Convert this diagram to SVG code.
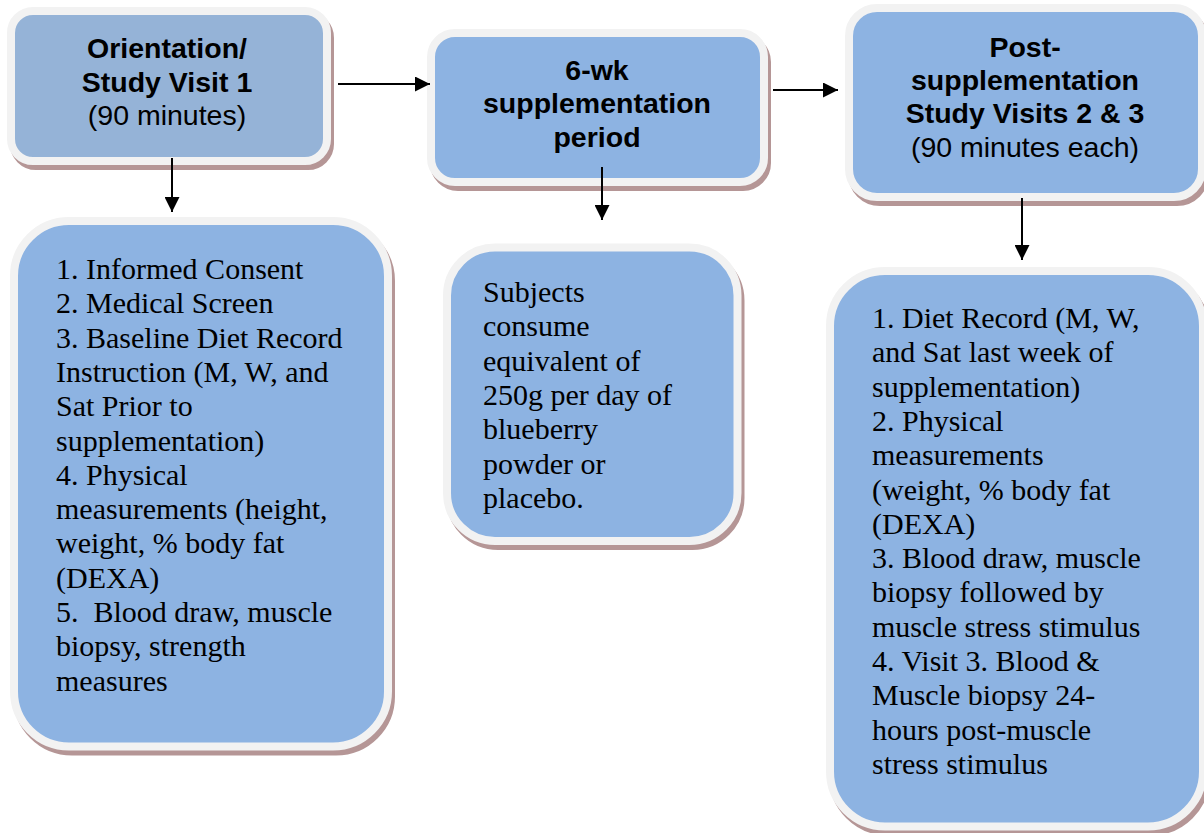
<svg xmlns="http://www.w3.org/2000/svg" width="1204" height="833" viewBox="0 0 1204 833">
<style>
.sh{fill:#b59696;stroke:#b59696;stroke-width:8}
.bx{fill:#8db3e2;stroke:#f2f2f2;stroke-width:8}
.bx1{fill:#95b3d7;stroke:#f2f2f2;stroke-width:8}
.hd{font-family:"Liberation Sans",Arial,sans-serif;font-size:28.5px;text-anchor:middle;fill:#000}
.b{font-weight:bold}
.bd{font-family:"Liberation Serif","Times New Roman",serif;font-size:30px;fill:#000;white-space:pre}
.cn{stroke:#000;stroke-width:2;fill:none}
</style>
<defs>
<marker id="ah" markerUnits="userSpaceOnUse" viewBox="0 0 15 15" refX="15" refY="7.5" markerWidth="15" markerHeight="15" orient="auto">
<path d="M0,0 L15,7.5 L0,15 z" fill="#000"/>
</marker>
</defs>
<rect width="1204" height="833" fill="#fff"/>
<g id="node-orientation">
<rect class="sh" x="14" y="16" width="316" height="150" rx="22"/>
<rect class="bx1" x="11" y="11" width="316" height="150" rx="22"/>
<text class="hd b" x="167" y="58">Orientation/</text>
<text class="hd b" x="167" y="92">Study Visit 1</text>
<text class="hd" x="167" y="125">(90 minutes)</text>
</g>
<g id="node-supplementation">
<rect class="sh" x="434" y="38" width="333" height="149" rx="24"/>
<rect class="bx" x="431" y="33" width="333" height="149" rx="24"/>
<text class="hd b" x="597" y="80">6-wk</text>
<text class="hd b" x="597" y="113">supplementation</text>
<text class="hd b" x="597" y="147">period</text>
</g>
<g id="node-post">
<rect class="sh" x="852" y="13" width="353" height="189" rx="28"/>
<rect class="bx" x="849" y="8" width="353" height="189" rx="28"/>
<text class="hd b" x="1025" y="57">Post-</text>
<text class="hd b" x="1025" y="90">supplementation</text>
<text class="hd b" x="1025" y="123">Study Visits 2 &amp; 3</text>
<text class="hd" x="1025" y="157">(90 minutes each)</text>
</g>
<g id="node-visit1-tasks">
<rect class="sh" x="17" y="226" width="374" height="525.5" rx="55"/>
<rect class="bx" x="14" y="221" width="374" height="525.5" rx="55"/>
<text class="bd" x="56" y="279">1. Informed Consent</text>
<text class="bd" x="56" y="313.3">2. Medical Screen</text>
<text class="bd" x="56" y="347.6">3. Baseline Diet Record</text>
<text class="bd" x="56" y="381.9">Instruction (M, W, and</text>
<text class="bd" x="56" y="416.2">Sat Prior to</text>
<text class="bd" x="56" y="450.5">supplementation)</text>
<text class="bd" x="56" y="484.8">4. Physical</text>
<text class="bd" x="56" y="519.1">measurements (height,</text>
<text class="bd" x="56" y="553.4">weight, % body fat</text>
<text class="bd" x="56" y="587.7">(DEXA)</text>
<text class="bd" x="56" y="622">5.  Blood draw, muscle</text>
<text class="bd" x="56" y="656.3">biopsy, strength</text>
<text class="bd" x="56" y="690.6">measures</text>
</g>
<g id="node-supp-tasks">
<rect class="sh" x="450" y="252.5" width="290.5" height="293.5" rx="48"/>
<rect class="bx" x="447" y="247.5" width="290.5" height="293.5" rx="48"/>
<text class="bd" x="483" y="302">Subjects</text>
<text class="bd" x="483" y="336.3">consume</text>
<text class="bd" x="483" y="370.6">equivalent of</text>
<text class="bd" x="483" y="404.9">250g per day of</text>
<text class="bd" x="483" y="439.2">blueberry</text>
<text class="bd" x="483" y="473.5">powder or</text>
<text class="bd" x="483" y="507.8">placebo.</text>
</g>
<g id="node-post-tasks">
<rect class="sh" x="833" y="276" width="373" height="555.5" rx="55"/>
<rect class="bx" x="830" y="271" width="373" height="555.5" rx="55"/>
<text class="bd" x="872" y="328">1. Diet Record (M, W,</text>
<text class="bd" x="872" y="362.3">and Sat last week of</text>
<text class="bd" x="872" y="396.6">supplementation)</text>
<text class="bd" x="872" y="430.9">2. Physical</text>
<text class="bd" x="872" y="465.2">measurements</text>
<text class="bd" x="872" y="499.5">(weight, % body fat</text>
<text class="bd" x="872" y="533.8">(DEXA)</text>
<text class="bd" x="872" y="568.1">3. Blood draw, muscle</text>
<text class="bd" x="872" y="602.4">biopsy followed by</text>
<text class="bd" x="872" y="636.7">muscle stress stimulus</text>
<text class="bd" x="872" y="671">4. Visit 3. Blood &amp;</text>
<text class="bd" x="872" y="705.3">Muscle biopsy 24-</text>
<text class="bd" x="872" y="739.6">hours post-muscle</text>
<text class="bd" x="872" y="773.9">stress stimulus</text>
</g>
<g id="connectors">
<path class="cn" d="M338,84 H430" marker-end="url(#ah)"/>
<path class="cn" d="M773,90 H838" marker-end="url(#ah)"/>
<path class="cn" d="M172,158 V212" marker-end="url(#ah)"/>
<path class="cn" d="M602,167 V220" marker-end="url(#ah)"/>
<path class="cn" d="M1022,198 V260" marker-end="url(#ah)"/>
</g>
</svg>
